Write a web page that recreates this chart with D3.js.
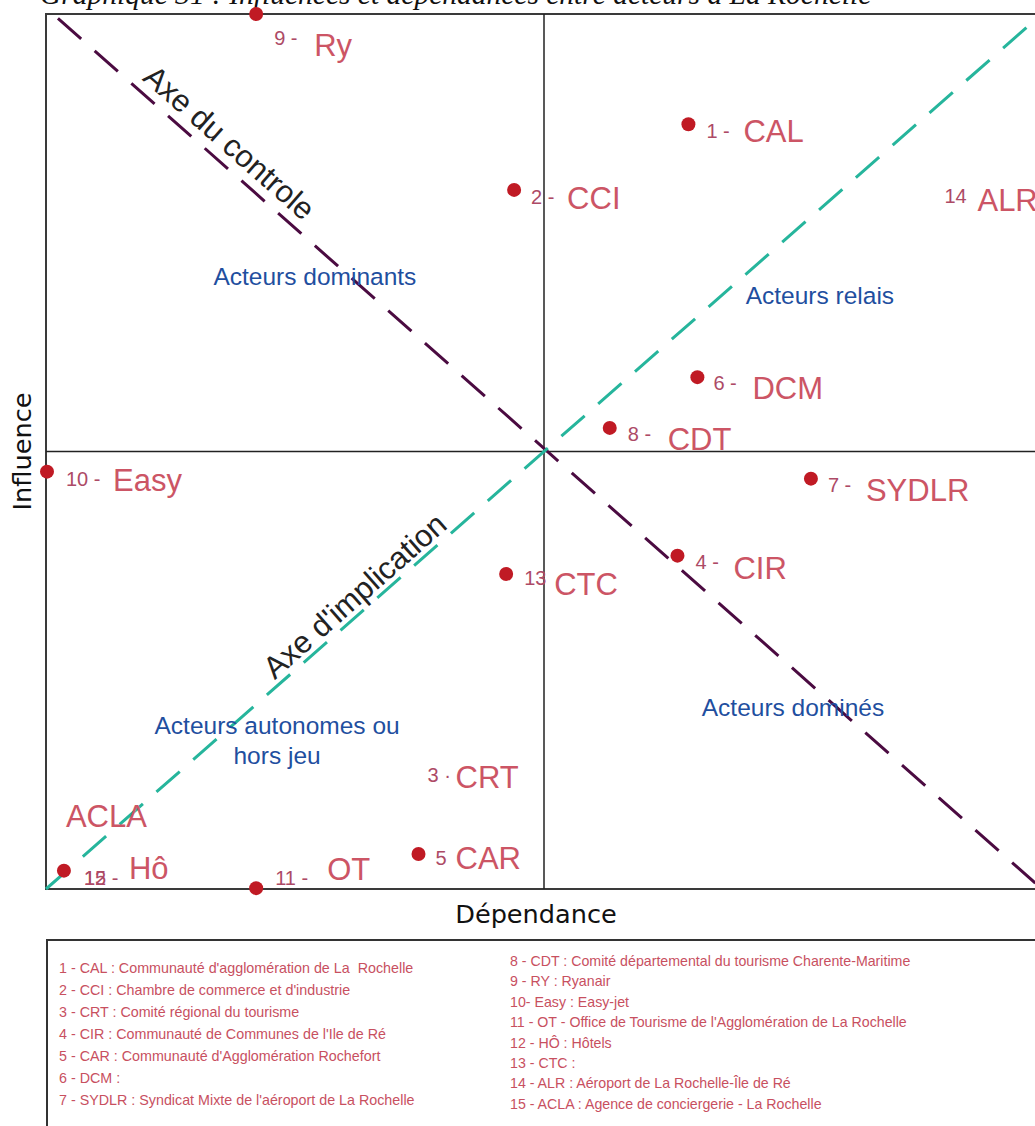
<!DOCTYPE html>
<html>
<head>
<meta charset="utf-8">
<script src="https://cdn.jsdelivr.net/npm/d3@7"></script>
<style>
  body { margin: 0; background: #fff; }
  svg { display: block; }
</style>
</head>
<body>
<svg width="1035" height="1126"></svg>
<script>
// actors (dependance / influence, 0-100 scale)
var numbers = ["1 -", "2 -", "3 ·", "4 -", "5", "6 -", "7 -", "8 -", "9 -", "10 -", "11 -", "12 -", "13", "14", "15"];
var codes = ["CAL", "CCI", "CRT", "CIR", "CAR", "DCM", "SYDLR", "CDT", "Ry", "Easy", "OT", "Hô", "CTC", "ALR", "ACLA"];
var dependance = [64.5, 47.0, 36.5, 63.4, 37.4, 65.4, 76.8, 56.6, 21.1, 0.1, 21.1, 1.8, 46.2, 88.4, 1.8];
var influence = [87.4, 79.9, 13.6, 38.1, 4.0, 58.5, 46.9, 52.7, 100, 47.7, 0.1, 2.1, 36.0, 79.8, 2.1];
var dotShown = [true, true, false, true, true, true, true, true, true, true, true, true, true, false, false];

var legendLeft = [
  "1 - CAL : Communauté d'agglomération de La  Rochelle",
  "2 - CCI : Chambre de commerce et d'industrie",
  "3 - CRT : Comité régional du tourisme",
  "4 - CIR : Communauté de Communes de l'Ile de Ré",
  "5 - CAR : Communauté d'Agglomération Rochefort",
  "6 - DCM :",
  "7 - SYDLR : Syndicat Mixte de l'aéroport de La Rochelle"
];
var legendRight = [
  "8 - CDT : Comité départemental du tourisme Charente-Maritime",
  "9 - RY : Ryanair",
  "10- Easy : Easy-jet",
  "11 - OT - Office de Tourisme de l'Agglomération de La Rochelle",
  "12 - HÔ : Hôtels",
  "13 - CTC :",
  "14 - ALR : Aéroport de La Rochelle-Île de Ré",
  "15 - ACLA : Agence de conciergerie - La Rochelle"
];

var quadrantText = [["Acteurs dominants"], ["Acteurs relais"], ["Acteurs autonomes ou", "hors jeu"], ["Acteurs dominés"]];

// label layout: [number dx, number dy, name dx, name dy] from the dot
var labelNudge = [
  [18, 14, 55, 18], [17, 14, 53, 19], [18, 12, 46, 18], [18, 13, 56, 23], [17, 11, 37, 15],
  [16, 13, 55, 22], [17, 13, 55, 22], [18, 13, 58, 22], [18, 31, 58, 42], [19, 14, 66, 19],
  [19, -3, 71, -8], [20, 14, 65, 8], [18, 11, 48, 21], [18, 12, 51, 20], [20, 14, 2, -44]
];
// quadrant label anchors in data units [x, y baseline]
var quadrantPos = [[27.0, 69.0], [77.7, 66.9], [23.2, 17.7], [75.0, 19.8]];

var svg = d3.select("svg");

var x = d3.scaleLinear().domain([0, 100]).range([46, 1042]);
var y = d3.scaleLinear().domain([0, 100]).range([889, 14]);

// title (cut at the top of the picture)
svg.append("text")
  .attr("x", 40).attr("y", 4)
  .style("font-family", "'Liberation Serif', serif")
  .style("font-style", "italic")
  .style("font-size", "29.5px")
  .attr("fill", "#111")
  .text("Graphique 31 : Influences et dépendances entre acteurs à La Rochelle");

// frame + quadrants
svg.append("rect")
  .attr("x", x(0)).attr("y", y(100))
  .attr("width", x(100) - x(0)).attr("height", y(0) - y(100))
  .attr("fill", "none").attr("stroke", "#3a3a3a").attr("stroke-width", 2);

svg.append("line")
  .attr("x1", x(50)).attr("x2", x(50)).attr("y1", y(100)).attr("y2", y(0))
  .attr("stroke", "#222").attr("stroke-width", 1.5);
svg.append("line")
  .attr("x1", x(0)).attr("x2", x(100)).attr("y1", y(50)).attr("y2", y(50))
  .attr("stroke", "#222").attr("stroke-width", 1.5);

// diagonals
svg.append("line")
  .attr("x1", x(1.2)).attr("y1", y(99.5)).attr("x2", x(100)).attr("y2", y(0))
  .attr("stroke", "#4b0b41").attr("stroke-width", 3).attr("stroke-dasharray", "31,18");
svg.append("line")
  .attr("x1", x(0)).attr("y1", y(0)).attr("x2", x(100)).attr("y2", y(100))
  .attr("stroke", "#26b59c").attr("stroke-width", 3).attr("stroke-dasharray", "31,18");

var angle = Math.atan2(y(0) - y(100), x(100) - x(0)) * 180 / Math.PI;

svg.append("text")
  .attr("transform", "translate(" + x(18.4) + "," + y(85.3) + ") rotate(" + angle + ")")
  .attr("text-anchor", "middle").attr("dominant-baseline", "central")
  .style("font-family", "'Liberation Sans', Arial, sans-serif").style("font-size", "31px")
  .attr("fill", "#222")
  .text("Axe du controle");
svg.append("text")
  .attr("transform", "translate(" + x(31.0) + "," + y(33.5) + ") rotate(" + (-angle) + ")")
  .attr("text-anchor", "middle").attr("dominant-baseline", "central")
  .style("font-family", "'Liberation Sans', Arial, sans-serif").style("font-size", "31px")
  .attr("fill", "#222")
  .text("Axe d'implication");

// quadrant names
quadrantText.forEach(function(lines, i) {
  lines.forEach(function(t, j) {
    svg.append("text")
      .attr("x", x(quadrantPos[i][0]))
      .attr("y", y(quadrantPos[i][1]) + j * 30)
      .attr("text-anchor", "middle")
      .style("font-family", "'Liberation Sans', Arial, sans-serif").style("font-size", "24.5px")
      .attr("fill", "#1f4f9f")
      .text(t);
  });
});

// axis titles
svg.append("text")
  .attr("x", 536).attr("y", 923)
  .attr("text-anchor", "middle")
  .style("font-family", "'DejaVu Sans', sans-serif").style("font-size", "25.6px")
  .attr("fill", "#111")
  .text("Dépendance");
svg.append("text")
  .attr("transform", "translate(31," + y(50) + ") rotate(-90)")
  .attr("text-anchor", "middle")
  .style("font-family", "'DejaVu Sans', sans-serif").style("font-size", "25.6px")
  .attr("fill", "#111")
  .text("Influence");

// points
var actors = codes.map(function(c, i) {
  return { num: numbers[i], code: c, dep: dependance[i], inf: influence[i], dot: dotShown[i], nudge: labelNudge[i] };
});

svg.append("g")
  .selectAll("circle")
  .data(actors.filter(function(d) { return d.dot; }))
  .enter()
  .append("circle")
    .attr("cx", function(d) { return x(d.dep); })
    .attr("cy", function(d) { return y(d.inf); })
    .attr("r", 7)
    .attr("fill", "#c01a24");

var labels = svg.append("g").selectAll("g").data(actors).enter().append("g");
labels.append("text")
  .attr("x", function(d) { return x(d.dep) + d.nudge[0]; })
  .attr("y", function(d) { return y(d.inf) + d.nudge[1]; })
  .style("font-family", "'Liberation Sans Narrow', 'Liberation Sans', sans-serif")
  .style("font-size", "20px")
  .attr("fill", "#ad4a66")
  .text(function(d) { return d.num; });
labels.append("text")
  .attr("x", function(d) { return x(d.dep) + d.nudge[2]; })
  .attr("y", function(d) { return y(d.inf) + d.nudge[3]; })
  .style("font-family", "'Liberation Sans', Arial, sans-serif")
  .style("font-size", "31px")
  .attr("fill", "#cc5565")
  .text(function(d) { return d.code; });

// legend box
svg.append("rect")
  .attr("x", 47).attr("y", 940).attr("width", 1010).attr("height", 200)
  .attr("fill", "none").attr("stroke", "#333").attr("stroke-width", 2);

svg.append("g").selectAll("text").data(legendLeft).enter().append("text")
  .attr("x", 59).attr("y", function(d, i) { return 973 + i * 22; })
  .style("font-family", "'Liberation Sans', Arial, sans-serif").style("font-size", "14.3px")
  .style("white-space", "pre")
  .attr("fill", "#c8505f")
  .text(function(d) { return d; });
svg.append("g").selectAll("text").data(legendRight).enter().append("text")
  .attr("x", 510).attr("y", function(d, i) { return 966 + i * 20.4; })
  .style("font-family", "'Liberation Sans', Arial, sans-serif").style("font-size", "14.2px")
  .style("white-space", "pre")
  .attr("fill", "#c8505f")
  .text(function(d) { return d; });
</script>
</body>
</html>
